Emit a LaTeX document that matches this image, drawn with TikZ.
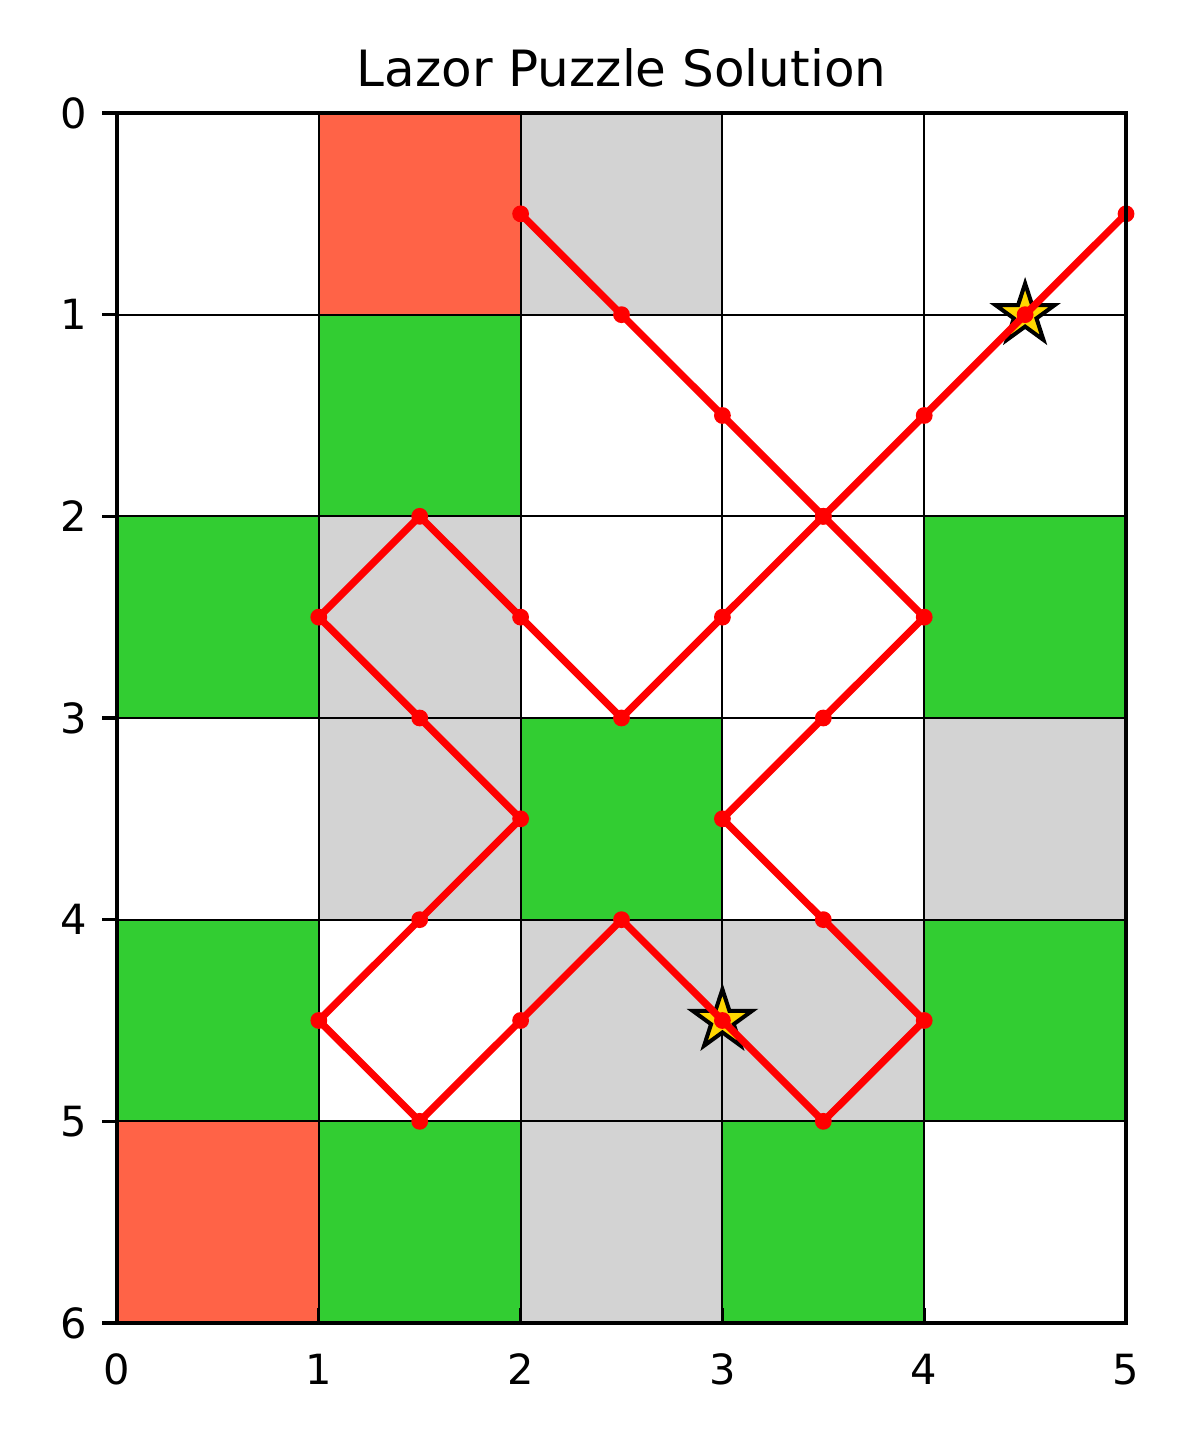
\documentclass[tikz,border=0pt]{standalone}
\usepackage{fontspec}
\setmainfont{DejaVu Sans}
\definecolor{tomatoc}{HTML}{FF6347}
\definecolor{limeg}{HTML}{32CD32}
\definecolor{lgray}{HTML}{D3D3D3}
\definecolor{goldc}{HTML}{FFD700}
\definecolor{laser}{HTML}{FF0000}
\begin{document}
\begin{tikzpicture}[x=100.9pt,y=-100.83pt,
  cellR/.style={fill=tomatoc},
  cellG/.style={fill=limeg},
  cellB/.style={fill=lgray},
  gridline/.style={line width=1pt,black},
  frame/.style={line width=1.6pt,black},
  tickmark/.style={line width=1.6pt,black},
  ticklab/.style={font=\fontsize{20.8pt}{25pt}\selectfont,inner sep=0pt},
  beam/.style={draw=laser,line width=3.6pt,line join=round},
  dot/.style={circle,fill=laser,inner sep=0pt,minimum size=8.4pt},
  target/.style={fill=goldc,draw=black,line width=2pt,line join=miter}]
\useasboundingbox (-0.5798,-0.5603) rectangle (5.3667,6.5803);
\fill[white] (-0.5798,-0.5603) rectangle (5.3667,6.5803);
% cells
\fill[cellR] (1,0) rectangle (2,1);
\fill[cellB] (2,0) rectangle (3,1);
\fill[cellG] (1,1) rectangle (2,2);
\fill[cellG] (0,2) rectangle (1,3);
\fill[cellB] (1,2) rectangle (2,3);
\fill[cellG] (4,2) rectangle (5,3);
\fill[cellB] (1,3) rectangle (2,4);
\fill[cellG] (2,3) rectangle (3,4);
\fill[cellB] (4,3) rectangle (5,4);
\fill[cellG] (0,4) rectangle (1,5);
\fill[cellB] (2,4) rectangle (4,5);
\fill[cellG] (4,4) rectangle (5,5);
\fill[cellR] (0,5) rectangle (1,6);
\fill[cellG] (1,5) rectangle (2,6);
\fill[cellB] (2,5) rectangle (3,6);
\fill[cellG] (3,5) rectangle (4,6);
% grid
\foreach \i in {1,...,4} \draw[gridline] (\i,0) -- (\i,6);
\foreach \j in {1,...,5} \draw[gridline] (0,\j) -- (5,\j);
% targets
\coordinate (ta) at (4.5,1);
\coordinate (tb) at (3,4.5);
\begin{scope}[shift={(4.5,1)}]
\draw[target] (90:15.6pt) -- (126:5.96pt) -- (162:15.6pt) -- (198:5.96pt) -- (234:15.6pt) -- (270:5.96pt) -- (306:15.6pt) -- (342:5.96pt) -- (18:15.6pt) -- (54:5.96pt) -- cycle;
\end{scope}
\begin{scope}[shift={(3,4.5)}]
\draw[target] (90:15.6pt) -- (126:5.96pt) -- (162:15.6pt) -- (198:5.96pt) -- (234:15.6pt) -- (270:5.96pt) -- (306:15.6pt) -- (342:5.96pt) -- (18:15.6pt) -- (54:5.96pt) -- cycle;
\end{scope}
% laser points
\foreach \n/\x/\y in {1/2/0.5,2/2.5/1,3/3/1.5,4/3.5/2,5/4/2.5,6/3.5/3,7/3/3.5,8/3.5/4,9/4/4.5,10/3.5/5,11/3/4.5,12/2.5/4,13/2/4.5,14/1.5/5,15/1/4.5,16/1.5/4,17/2/3.5,18/1.5/3,19/1/2.5,20/1.5/2,21/2/2.5,22/2.5/3,23/3/2.5,24/3.5/2,25/4/1.5,26/4.5/1,27/5/0.5}
  \coordinate (p\n) at (\x,\y);
\draw[beam] (p1) \foreach \k in {2,...,27}{ -- (p\k)};
\foreach \k in {1,...,27} \node[dot] (d\k) at (p\k) {};
% frame
\draw[frame] (0,0) rectangle (5,6);
% ticks and labels
\foreach \i in {0,...,5}{
  \draw[tickmark] (\i,6) -- ++(0,7.3pt);
  \node[ticklab,anchor=base] (xl\i) at (\i,6.307) {\i};
}
\foreach \j in {0,...,6}{
  \draw[tickmark] (0,\j) -- ++(-7.3pt,0);
  \node[ticklab,anchor=east] (yl\j) at (-0.147,\j) {\j};
}
\node[font=\fontsize{25pt}{30pt}\selectfont,inner sep=0pt,anchor=base] (title) at (2.5,-0.129) {Lazor Puzzle Solution};
\end{tikzpicture}
\end{document}
